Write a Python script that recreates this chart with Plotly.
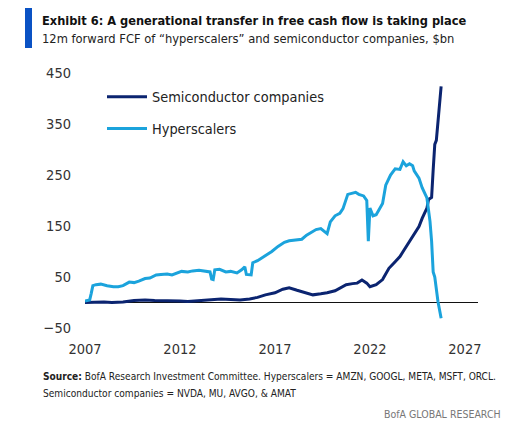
import plotly.graph_objects as go

# page body has an 8px margin, so the figure is a bit smaller and shifted
OFF = 8
W, H = 531 - OFF, 434 - OFF
L, R, T, B = 85 - OFF, 53, 73 - OFF, 106

# 12m forward FCF, $bn
hyper_dates = ['2007-01', '2007-02', '2007-04', '2007-05', '2007-06', '2007-08', '2007-11',
               '2008-03', '2008-07', '2008-10', '2009-01', '2009-05', '2009-08', '2009-11',
               '2010-03', '2010-06', '2010-10', '2011-01', '2011-05', '2011-08', '2011-11',
               '2012-02', '2012-06', '2012-09', '2013-01', '2013-05', '2013-08', '2013-09',
               '2013-10', '2013-11', '2014-02', '2014-06', '2014-09', '2015-01', '2015-04',
               '2015-06', '2015-07', '2015-10', '2015-11', '2016-02', '2016-05', '2016-08',
               '2016-11', '2017-03', '2017-07', '2017-10', '2018-02', '2018-06', '2018-09',
               '2018-12', '2019-03', '2019-06', '2019-08', '2019-10', '2019-12', '2020-03',
               '2020-06', '2020-08', '2020-11', '2021-01', '2021-04', '2021-06', '2021-09',
               '2021-11', '2021-12', '2022-01', '2022-03', '2022-05', '2022-07', '2022-09',
               '2022-11', '2023-02', '2023-05', '2023-08', '2023-10', '2023-12', '2024-02',
               '2024-04', '2024-05', '2024-08', '2024-10', '2025-01', '2025-03', '2025-04',
               '2025-05', '2025-06', '2025-08', '2025-10']
hyper_fcf = [3, 4, 5, 18, 33, 35, 36,
             33, 31, 31, 33, 40, 39, 42,
             47, 48, 54, 55, 56, 54, 58,
             61, 60, 62, 63, 61, 60, 46,
             45, 64, 65, 60, 61, 58, 64,
             70, 55, 54, 78, 82, 88, 93,
             100, 110, 118, 121, 122, 124, 132,
             137, 143, 145, 140, 135, 158, 170,
             175, 184, 212, 214, 216, 212, 209,
             200, 120, 185, 170, 172, 182, 194,
             230, 250, 262, 261, 276, 268, 272,
             268, 258, 244, 225, 205, 159, 120,
             60, 50, 2, -31]

semi_dates = ['2007-01', '2007-06', '2008-01', '2008-06', '2009-01', '2009-08', '2010-03',
              '2010-09', '2011-04', '2012-01', '2012-06', '2013-01', '2013-08', '2014-03',
              '2014-09', '2015-03', '2015-09', '2016-02', '2016-07', '2017-01', '2017-06',
              '2017-10', '2018-03', '2018-08', '2019-01', '2019-06', '2019-10', '2020-03',
              '2020-07', '2020-10', '2021-02', '2021-05', '2021-08', '2021-11', '2022-01',
              '2022-05', '2022-09', '2023-01', '2023-05', '2023-08', '2023-10', '2024-02',
              '2024-05', '2024-08', '2024-10', '2025-01', '2025-02', '2025-04', '2025-05',
              '2025-06', '2025-07', '2025-10']
semi_fcf = [0, 1, 1, 0, 1, 4, 5,
            4, 4, 3, 2, 4, 6, 7,
            6, 5, 7, 10, 15, 19, 26,
            29, 24, 19, 15, 17, 19, 23,
            30, 35, 37, 38, 44, 38, 31,
            35, 45, 67, 80, 90, 100, 120,
            133, 149, 165, 185, 202, 206, 260,
            310, 318, 424]

NAVY = '#0b2470'
LIGHT = '#1ba3dc'
COND = 'DejaVu Sans Condensed, DejaVu Sans, sans-serif'


# positions below are given in pixels of the reference picture
def px_x(p):
    return (p - OFF - L) / (W - L - R)


def px_y(p):
    return (H - B - (p - OFF)) / (H - T - B)


fig = go.Figure()
fig.add_trace(go.Scatter(x=semi_dates, y=semi_fcf, mode='lines',
                         name='Semiconductor companies', legendgroup='a',
                         line=dict(color=NAVY, width=3)))
fig.add_trace(go.Scatter(x=hyper_dates, y=hyper_fcf, mode='lines',
                         name='Hyperscalers', legendgroup='b',
                         line=dict(color=LIGHT, width=3)))

fig.update_layout(
    width=W, height=H,
    margin=dict(l=L, r=R, t=T, b=B),
    paper_bgcolor='white', plot_bgcolor='white',
    font=dict(family=COND, size=14.5, color='#333333'),
    showlegend=True,
    legend=dict(x=px_x(102), y=px_y(81), xanchor='left', yanchor='top',
                bgcolor='rgba(0,0,0,0)', tracegroupgap=10, itemwidth=40,
                font=dict(family=COND, size=14.4, color='#222222')),
    xaxis=dict(type='date', range=['2007-01-01', '2027-09-10'],
               tick0='2007-01-01', dtick='M60', tickformat='%Y',
               showgrid=False, showline=False, zeroline=False,
               ticks='', ticklabelstandoff=10),
    yaxis=dict(range=[-50, 450], tick0=-50, dtick=100,
               showgrid=False, showline=False,
               zeroline=True, zerolinecolor='#111111', zerolinewidth=1.2,
               ticks='', ticklabelstandoff=13),
)

fig.add_shape(type='rect', xref='paper', yref='paper',
              x0=px_x(25), x1=px_x(32), y0=px_y(48), y1=px_y(5),
              fillcolor='#0a52c4', line=dict(width=0))

fig.add_annotation(xref='paper', yref='paper', x=px_x(40), y=px_y(20),
                   xanchor='left', yanchor='middle', showarrow=False,
                   text='<b>Exhibit 6: A generational transfer in free cash flow is taking place</b>',
                   font=dict(family=COND, size=12.7, color='#111111'))
fig.add_annotation(xref='paper', yref='paper', x=px_x(40), y=px_y(38),
                   xanchor='left', yanchor='middle', showarrow=False,
                   text='12m forward FCF of \u201chyperscalers\u201d and semiconductor companies, $bn',
                   font=dict(family=COND, size=12.8, color='#222222'))
fig.add_annotation(xref='paper', yref='paper', x=px_x(41), y=px_y(376),
                   xanchor='left', yanchor='middle', showarrow=False,
                   text='<b>Source:</b> BofA Research Investment Committee. Hyperscalers = AMZN, GOOGL, META, MSFT, ORCL.',
                   font=dict(family=COND, size=10.1, color='#222222'))
fig.add_annotation(xref='paper', yref='paper', x=px_x(41), y=px_y(393),
                   xanchor='left', yanchor='middle', showarrow=False,
                   text='Semiconductor companies = NVDA, MU, AVGO, & AMAT',
                   font=dict(family=COND, size=10.1, color='#222222'))
fig.add_annotation(xref='paper', yref='paper', x=px_x(503), y=px_y(414),
                   xanchor='right', yanchor='middle', showarrow=False,
                   text='BofA GLOBAL RESEARCH',
                   font=dict(family=COND, size=10.5, color='#777777'))

fig.write_html('out.html')
